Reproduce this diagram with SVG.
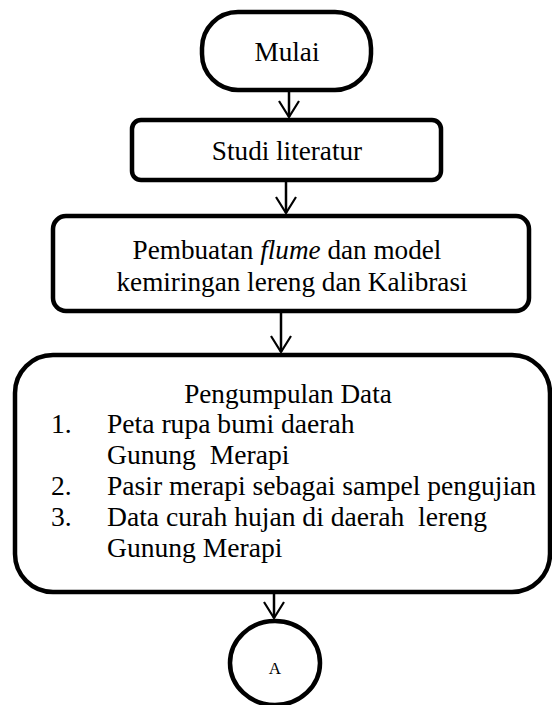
<svg xmlns="http://www.w3.org/2000/svg" width="552" height="705" viewBox="0 0 552 705">
<style>
.box{fill:#fff;stroke:#000;stroke-width:4.5}
.t{font-family:"Liberation Serif","Times New Roman",serif;font-size:27.2px;fill:#000;white-space:pre}
.l{font-size:27.6px}
.c{text-anchor:middle}
.conn line{stroke:#000;stroke-width:2.5}
</style>
<defs>
<marker id="arr" viewBox="0 0 18 22" refX="17" refY="11" markerWidth="18" markerHeight="22" markerUnits="userSpaceOnUse" orient="auto">
<path d="M1,1 L17,11 L1,21" fill="none" stroke="#000" stroke-width="2.2"/>
</marker>
</defs>
<g id="connectors" class="conn">
<line x1="289" y1="92" x2="289" y2="117" marker-end="url(#arr)"/>
<line x1="286" y1="182" x2="286" y2="213" marker-end="url(#arr)"/>
<line x1="281" y1="313" x2="281" y2="352" marker-end="url(#arr)"/>
<line x1="274" y1="594" x2="274" y2="618" marker-end="url(#arr)"/>
</g>
<g id="mulai">
<rect class="box" x="202" y="12" width="169" height="78" rx="36" ry="36"/>
<text class="t c" x="287" y="61">Mulai</text>
</g>
<g id="studi">
<rect class="box" x="132" y="120" width="309" height="60" rx="9" ry="9"/>
<text class="t c" x="287" y="160">Studi literatur</text>
</g>
<g id="pembuatan">
<rect class="box" x="53" y="216" width="476" height="95" rx="13" ry="13"/>
<text class="t c" x="287" y="259">Pembuatan <tspan font-style="italic">flume</tspan> dan model</text>
<text class="t c" x="292" y="291">kemiringan lereng dan Kalibrasi</text>
</g>
<g id="pengumpulan">
<rect class="box" x="15" y="355" width="535" height="237" rx="38" ry="38"/>
<text class="t c" x="288" y="403">Pengumpulan Data</text>
<text class="t l" x="51" y="433">1.</text>
<text class="t l" x="107" y="433">Peta rupa bumi daerah</text>
<text class="t l" x="107" y="464">Gunung  Merapi</text>
<text class="t l" x="51" y="495">2.</text>
<text class="t l" x="107" y="495">Pasir merapi sebagai sampel pengujian</text>
<text class="t l" x="51" y="526">3.</text>
<text class="t l" x="107" y="526">Data curah hujan di daerah  lereng</text>
<text class="t l" x="107" y="557">Gunung Merapi</text>
</g>
<g id="a">
<ellipse class="box" cx="275" cy="663" rx="45" ry="42"/>
<text class="t c" x="275" y="674" style="font-size:17px">A</text>
</g>
</svg>
